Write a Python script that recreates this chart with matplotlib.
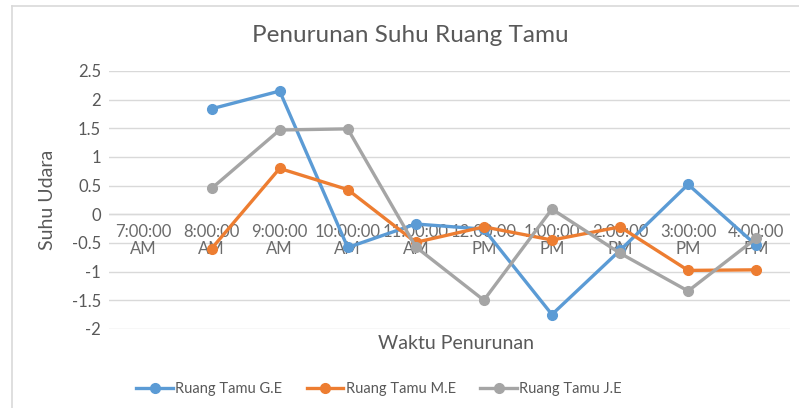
import matplotlib.pyplot as plt
from matplotlib.lines import Line2D

plt.rcParams['font.family'] = ['Lato', 'DejaVu Sans']

# data
waktu = ["7:00:00\nAM", "8:00:00\nAM", "9:00:00\nAM", "10:00:00\nAM", "11:00:00\nAM",
         "12:00:00\nPM", "1:00:00\nPM", "2:00:00\nPM", "3:00:00\nPM", "4:00:00\nPM"]
ge = [None, 1.84, 2.15, -0.58, -0.17, -0.26, -1.75, -0.63, 0.52, -0.54]
me = [None, -0.60, 0.80, 0.43, -0.49, -0.22, -0.45, -0.22, -0.98, -0.97]
je = [None, 0.45, 1.47, 1.49, -0.57, -1.50, 0.09, -0.68, -1.34, -0.42]

series = [("Ruang Tamu G.E", ge, "#5B9BD5"),
          ("Ruang Tamu M.E", me, "#ED7D31"),
          ("Ruang Tamu J.E", je, "#A5A5A5")]

txt = "#595959"

fig = plt.figure(figsize=(7.99, 4.08), dpi=100)
ax = fig.add_axes([0.137, 0.194, 0.852, 0.632])

x = list(range(len(waktu)))
for nama, vals, warna in series:
    xs = [i for i, v in zip(x, vals) if v is not None]
    ys = [v for v in vals if v is not None]
    ax.plot(xs, ys, color=warna, lw=2.4, marker="o", ms=7, label=nama, zorder=3)

ax.set_xlim(-0.5, len(waktu) - 0.5)
ax.set_ylim(-2, 2.5)
ax.set_yticks([-2, -1.5, -1, -0.5, 0, 0.5, 1, 1.5, 2, 2.5])
ax.set_yticklabels(["-2", "-1.5", "-1", "-0.5", "0", "0.5", "1", "1.5", "2", "2.5"])
ax.grid(axis="y", color="#D9D9D9", lw=1)
ax.axhline(0, color="#D9D9D9", lw=1)
ax.set_xticks([])
ax.tick_params(axis="y", length=0, labelsize=12, labelcolor=txt, pad=6)
for s in ax.spines.values():
    s.set_visible(False)

# category labels sit just under the zero line
for i, lab in enumerate(waktu):
    ax.annotate(lab, (i, 0), xytext=(0, -7), textcoords="offset points",
                ha="center", va="top", fontsize=12, color="#6b6b6b",
                linespacing=1.1, zorder=2)

fig.text(0.06, 0.51, "Suhu Udara", ha="center", va="center", rotation=90,
         fontsize=14, color=txt)
fig.text(0.571, 0.159, "Waktu Penurunan", ha="center", va="center",
         fontsize=14, color=txt)
fig.text(0.513, 0.912, "Penurunan Suhu Ruang Tamu", ha="center", va="center",
         fontsize=17.5, color=txt)

ax.legend(loc="center", bbox_to_anchor=(0.396, -0.235), ncol=3, frameon=False,
          fontsize=10.5, labelcolor=txt, handlelength=2.5, handletextpad=0.15,
          columnspacing=1.7)

# chart border (left and top edges)
fig.add_artist(Line2D([0.015, 0.015], [0.0, 0.985], color="#D9D9D9", lw=1.2))
fig.add_artist(Line2D([0.015, 1.0], [0.985, 0.985], color="#D9D9D9", lw=1.2))

fig.savefig("out.png", dpi=100)
